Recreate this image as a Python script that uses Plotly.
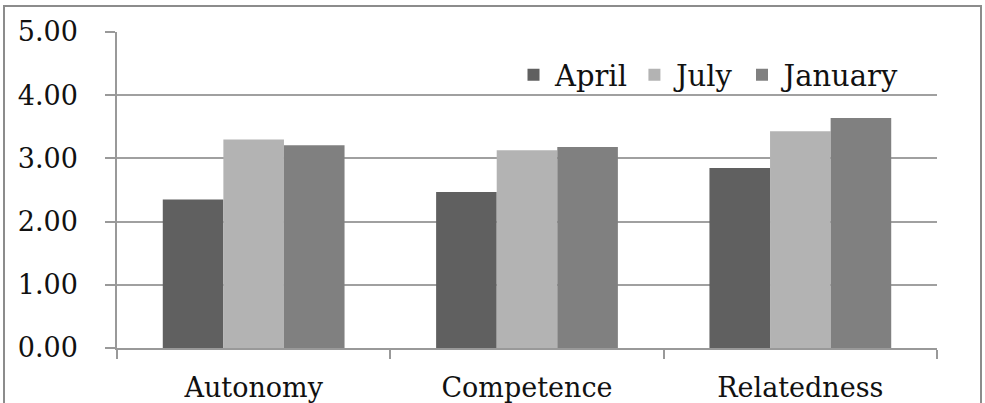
import plotly.graph_objects as go

categories = ["Autonomy", "Competence", "Relatedness"]
series_names = ["April", "July", "January"]
april = [2.35, 2.47, 2.85]
july = [3.30, 3.13, 3.43]
january = [3.21, 3.18, 3.64]
series_values = [april, july, january]
colors = ["#606060", "#b3b3b3", "#808080"]
y_ticks = [0, 1, 2, 3, 4, 5]

FONT = "DejaVu Serif"
FS = 27

fig = go.Figure()
for name, vals, col in zip(series_names, series_values, colors):
    fig.add_trace(go.Bar(name=name, x=categories, y=vals, marker_color=col,
                         marker_line_width=0))

L, R, T, B = 117, 48, 32, 55
W, H = 985, 403
pw, ph = W - L - R, H - T - B

def px_x(x):
    return (x - L) / pw

def px_y(y):
    return (H - B - y) / ph

fig.update_layout(
    width=W, height=H,
    margin=dict(l=L, r=R, t=T, b=B, autoexpand=False),
    paper_bgcolor="white", plot_bgcolor="white",
    barmode="group", bargap=0.335, bargroupgap=0,
    font=dict(family=FONT, size=FS, color="#111111"),
    showlegend=True,
    legend=dict(orientation="h", x=px_x(906), xanchor="right",
                y=px_y(75), yanchor="middle",
                font=dict(family=FONT, size=29, color="#111111"),
                bgcolor="rgba(0,0,0,0)", itemwidth=33, tracegroupgap=0),
    xaxis=dict(type="category", showgrid=False, showline=True, automargin=False,
               linecolor="#999999", linewidth=1.5,
               ticks="outside", tickson="boundaries", ticklen=9,
               tickcolor="#999999", tickwidth=1.5, ticklabelstandoff=15,
               tickfont=dict(family=FONT, size=FS, color="#111111")),
    yaxis=dict(range=[0, 5], tickvals=y_ticks, tickformat=".2f", automargin=False,
               showgrid=True, gridcolor="#a0a0a0", gridwidth=1.5,
               showline=True, linecolor="#999999", linewidth=1.5,
               ticks="outside", ticklen=10, tickcolor="#999999", tickwidth=1.5,
               zeroline=False, ticklabelstandoff=22,
               tickfont=dict(family=FONT, size=FS, color="#111111")),
    shapes=[dict(type="rect", xref="paper", yref="paper",
                 x0=px_x(4), x1=px_x(981), y0=px_y(412), y1=px_y(6),
                 line=dict(color="#8c8c8c", width=2), fillcolor="rgba(0,0,0,0)",
                 layer="below")],
)

fig.write_html("out.html")
